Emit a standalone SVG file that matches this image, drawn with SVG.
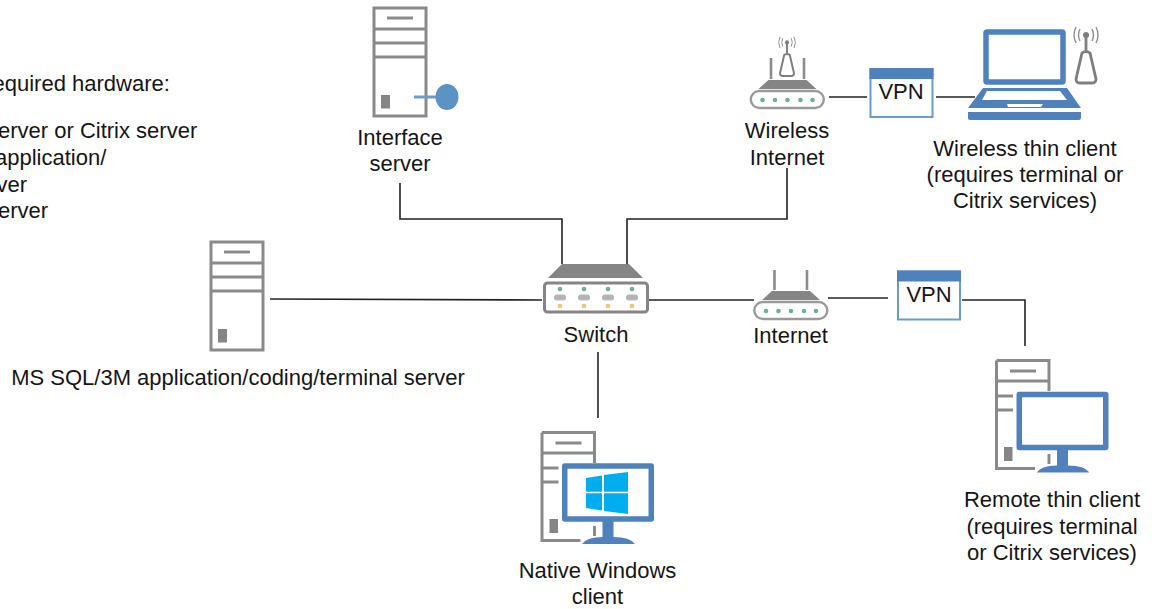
<svg xmlns="http://www.w3.org/2000/svg" width="1152" height="609" viewBox="0 0 1152 609">
<style>
text{font-family:"Liberation Sans",Arial,sans-serif;font-size:22px;fill:#151515;text-anchor:middle}
.l{text-anchor:start}
.c{fill:none;stroke:#222;stroke-width:1.6}
.g{fill:none;stroke:#8a8a8a;stroke-width:3}
.gf{fill:#858585}
.gl{fill:none;stroke:#8c8c8c;stroke-width:2.6}
.b{fill:#4f81bd}
.bs{fill:#fff;stroke:#4f81bd;stroke-width:5.500;stroke-linejoin:round}
.v{fill:#fff;stroke:#6a9bcb;stroke-width:2}
.gd{fill:#6fae97}
.yd{fill:#f0c674}
.pill{fill:#b5b5b5}
</style>
<defs>
<g id="tower">
<rect x="2" y="2" width="52" height="108" class="g"/>
<path d="M2 23H54M2 37H54M2 51H54" class="g"/>
<path d="M15 12H41" class="g"/>
<rect x="9" y="89" width="9" height="13.500" class="gf"/>
</g>
<g id="partTower">
<path d="M54 32V22H1.500V109.500H40M1.500 1.500H54V22M1.500 1.500V22M1.500 37H18M1.500 51H18" class="g"/>
<path d="M15 12H41" class="g"/>
<rect x="9" y="88" width="8.500" height="14" class="gf"/>
<path d="M54 95V105" class="g"/>
</g>
<g id="monitor">
<rect x="2.750" y="3" width="86.500" height="53" class="bs"/>
<path d="M40.500 58H51.500V74Q68 74 73 81H20Q25 74 40.500 74Z" class="b"/>
</g>
<g id="router">
<rect x="1.300" y="31" width="73" height="17" rx="8.500" fill="#fff" stroke="#9a9a9a" stroke-width="2.400"/>
<path d="M9 29L19 20H57L67 29Z" class="gf"/>
<circle cx="13" cy="40" r="2.300" class="gd"/><circle cx="25.500" cy="40" r="2.300" class="gd"/><circle cx="38" cy="40" r="2.300" class="gd"/><circle cx="51" cy="40" r="2.300" class="gd"/><circle cx="63" cy="40" r="2.300" class="gd"/>
</g>
<g id="vpn">
<rect x="1" y="1" width="62" height="48" class="v"/>
<rect x="0" y="0" width="64" height="11" class="b"/>
</g>
<g id="antenna">
<path d="M-4 0L-10 26Q-10 30 -6 30H6Q10 30 10 26L4 0Q0 -3 -4 0ZM0 -2V-18" fill="#fff" stroke="#7e7e7e" stroke-width="2.800"/>
<circle cx="0" cy="-18" r="3" fill="#7e7e7e"/>
<path d="M-6 -24Q-9 -18 -6 -12M6 -24Q9 -18 6 -12M-10 -26Q-14 -18 -10 -10M10 -26Q14 -18 10 -10" fill="none" stroke="#8e8e8e" stroke-width="1.400"/>
</g>
</defs>

<g id="connectors">
<path class="c" d="M400 183V219H562V264"/>
<path class="c" d="M787 168V219H627V264"/>
<path class="c" d="M270 299L542 300"/>
<path class="c" d="M649 300H754"/>
<path class="c" d="M828 298H888"/>
<path class="c" d="M962 300H1025V346"/>
<path class="c" d="M598 352V418"/>
<path class="c" d="M829 97H867"/>
<path class="c" d="M936 97H975"/>
</g>

<g id="hardware-note">
<text class="l" x="-7.500" y="91">equired hardware:</text>
<text class="l" x="-2" y="138">erver or Citrix server</text>
<text class="l" x="-5" y="165">application/</text>
<text class="l" x="-3.500" y="192">ver</text>
<text class="l" x="-2" y="218">erver</text>
</g>

<g id="interface-server">
<use href="#tower" x="372" y="6"/>
<path d="M414 97H438" stroke="#6a9bcb" stroke-width="3"/>
<ellipse cx="447" cy="97" rx="11.500" ry="13" fill="#5b93c4"/>
<text x="400" y="145">Interface</text>
<text x="400" y="171">server</text>
</g>

<g id="sql-server">
<use href="#tower" x="209" y="240"/>
<text x="238" y="385">MS SQL/3M application/coding/terminal server</text>
</g>

<g id="switch">
<path d="M548 278L562 264H629L643 278Z" class="gf"/>
<rect x="544.500" y="283" width="103" height="29" rx="3" fill="#fff" stroke="#858585" stroke-width="3"/>
<g class="gd"><circle cx="560" cy="289" r="2.300"/><circle cx="584" cy="289" r="2.300"/><circle cx="608" cy="289" r="2.300"/><circle cx="632" cy="289" r="2.300"/></g>
<g class="pill"><rect x="554" y="294.500" width="12" height="6" rx="3"/><rect x="578" y="294.500" width="12" height="6" rx="3"/><rect x="602" y="294.500" width="12" height="6" rx="3"/><rect x="626" y="294.500" width="12" height="6" rx="3"/></g>
<g class="yd"><circle cx="560" cy="306" r="2.300"/><circle cx="584" cy="306" r="2.300"/><circle cx="608" cy="306" r="2.300"/><circle cx="632" cy="306" r="2.300"/></g>
<text x="596" y="342">Switch</text>
</g>

<g id="internet">
<use href="#router" x="753" y="271"/>
<path d="M774.500 270V290M807 270V290" class="gl"/>
<text x="790.500" y="343">Internet</text>
</g>

<g id="wireless-internet">
<use href="#router" x="749.500" y="60"/>
<path d="M771 58V79M804 58V79" class="gl"/>
<g transform="translate(787 55) scale(.7)"><use href="#antenna"/></g>
<text x="787" y="138">Wireless</text>
<text x="787" y="165">Internet</text>
</g>

<g id="vpn-top">
<use href="#vpn" x="869.500" y="68"/>
<text x="901" y="99">VPN</text>
</g>

<g id="vpn-bottom">
<use href="#vpn" x="897" y="270.500"/>
<text x="929" y="302">VPN</text>
</g>

<g id="wireless-client">
<rect x="986" y="32" width="77" height="50" rx="1" class="bs"/>
<path d="M983 88H1067L1081 108H968Z" class="b"/>
<path d="M987 91H1060L1067 100H982Z" fill="#fff"/>
<path d="M1007 104H1043L1041 107H1008Z" fill="#fff"/>
<path d="M968 112H1081V118Q1081 120 1079 120H970Q968 120 968 118Z" class="b"/>
<g transform="translate(1086 53)"><use href="#antenna"/></g>
<text x="1025" y="156">Wireless thin client</text>
<text x="1025" y="182">(requires terminal or</text>
<text x="1025" y="208">Citrix services)</text>
</g>

<g id="remote-client">
<use href="#partTower" x="995" y="359"/>
<use href="#monitor" x="1016.500" y="391.500"/>
<text x="1052" y="507">Remote thin client</text>
<text x="1052" y="534">(requires terminal</text>
<text x="1052" y="560">or Citrix services)</text>
</g>

<g id="windows-client">
<use href="#partTower" x="540.500" y="431"/>
<use href="#monitor" x="562" y="463"/>
<path d="M586 478L602 475.500V491.700H586ZM604 475L628 472V491.700H604ZM586 493.300H602V510.500L586 508ZM604 493.300H628V514L604 511Z" fill="#00adef"/>
<text x="597.500" y="578">Native Windows</text>
<text x="597.500" y="604">client</text>
</g>
</svg>
